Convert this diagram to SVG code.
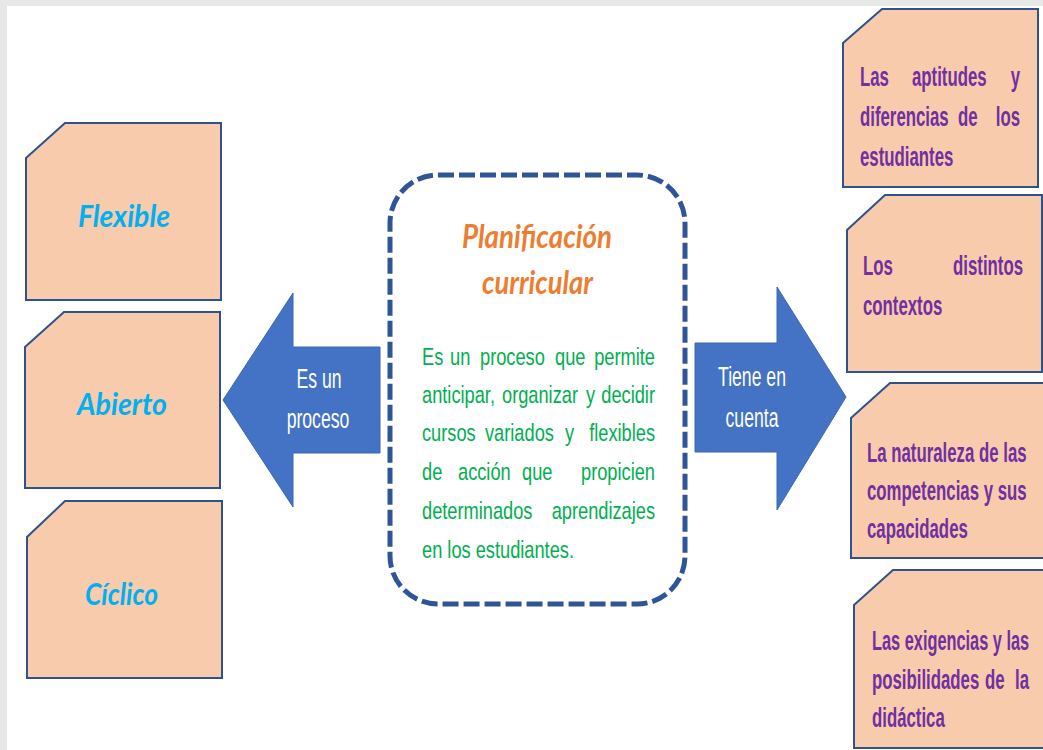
<svg xmlns="http://www.w3.org/2000/svg" width="1043" height="750" viewBox="0 0 1043 750">
<style>
.box{fill:#F8CBAD;stroke:#2F528F;stroke-width:2;stroke-linejoin:miter}
.arrow{fill:#4472C4;stroke:#3D66B3;stroke-width:1}
.cyan{font-family:Lato,"Liberation Sans",sans-serif;font-weight:bold;font-style:italic;font-size:31px;fill:#00B0F0}
.title{font-family:Lato,"Liberation Sans",sans-serif;font-weight:bold;font-style:italic;font-size:32px;fill:#ED7D31}
.green{font-family:"Liberation Sans",Arial,sans-serif;font-size:24px;fill:#00B050}
.purple{font-family:"Liberation Sans",Arial,sans-serif;font-weight:bold;font-size:28px;fill:#7030A0}
.white{font-family:"Liberation Sans",Arial,sans-serif;font-size:28px;fill:#FFFFFF;text-anchor:middle}
.end{text-anchor:end}
</style>
<rect x="0" y="0" width="1043" height="750" fill="#E7E7E7"/>
<rect x="7" y="6" width="1036" height="744" fill="#FFFFFF"/>

<g id="connectors">
  <polygon class="arrow" points="223,400 293,293 293,347 380,347 380,453 293,453 293,507"/>
  <text class="white" transform="translate(319 388) scale(0.63 1)">Es un</text>
  <text class="white" transform="translate(318 428) scale(0.63 1)">proceso</text>
  <polygon class="arrow" points="695,343 777,343 777,287 846,397 777,510 777,452 695,452"/>
  <text class="white" transform="translate(752 386) scale(0.63 1)">Tiene en</text>
  <text class="white" transform="translate(752 427) scale(0.63 1)">cuenta</text>
</g>

<g id="node-flexible">
  <polygon class="box" points="26,158 65,123 221,123 221,300 26,300"/>
  <text class="cyan" x="78" y="227" textLength="92" lengthAdjust="spacingAndGlyphs">Flexible</text>
</g>
<g id="node-abierto">
  <polygon class="box" points="25,347 64,312 220,312 220,488 25,488"/>
  <text class="cyan" x="77" y="415" textLength="90" lengthAdjust="spacingAndGlyphs">Abierto</text>
</g>
<g id="node-ciclico">
  <polygon class="box" points="27,537 65,501 222,501 222,678 27,678"/>
  <text class="cyan" x="85" y="605" textLength="73" lengthAdjust="spacingAndGlyphs">Cíclico</text>
</g>

<g id="node-center">
  <rect x="390" y="175" width="295" height="429" rx="48" ry="48" fill="#FFFFFF" stroke="#2F5597" stroke-width="5" stroke-dasharray="16 5"/>
  <text class="title" x="462" y="248" textLength="150" lengthAdjust="spacingAndGlyphs">Planificación</text>
  <text class="title" x="482" y="294" textLength="111" lengthAdjust="spacingAndGlyphs">curricular</text>
  <g class="green">
    <text transform="translate(422 365) scale(0.76 1)">Es</text>
    <text transform="translate(450 365) scale(0.76 1)">un</text>
    <text transform="translate(480 365) scale(0.76 1)">proceso</text>
    <text transform="translate(555 365) scale(0.76 1)">que</text>
    <text class="end" transform="translate(655 365) scale(0.76 1)">permite</text>
    <text transform="translate(422 403) scale(0.76 1)">anticipar,</text>
    <text transform="translate(502 403) scale(0.76 1)">organizar</text>
    <text transform="translate(586 403) scale(0.76 1)">y</text>
    <text class="end" transform="translate(655 403) scale(0.76 1)">decidir</text>
    <text transform="translate(422 441) scale(0.76 1)">cursos</text>
    <text transform="translate(485 441) scale(0.76 1)">variados</text>
    <text transform="translate(565 441) scale(0.76 1)">y</text>
    <text class="end" transform="translate(655 441) scale(0.76 1)">flexibles</text>
    <text transform="translate(422 480) scale(0.76 1)">de</text>
    <text transform="translate(458 480) scale(0.76 1)">acción</text>
    <text transform="translate(522 480) scale(0.76 1)">que</text>
    <text class="end" transform="translate(655 480) scale(0.76 1)">propicien</text>
    <text transform="translate(422 519) scale(0.76 1)">determinados</text>
    <text class="end" transform="translate(655 519) scale(0.76 1)">aprendizajes</text>
    <text transform="translate(422 558) scale(0.76 1)">en los estudiantes.</text>
  </g>
</g>

<g id="node-aptitudes">
  <polygon class="box" points="843,43 882,9 1038,9 1038,187 843,187"/>
  <g class="purple">
    <text transform="translate(860 86) scale(0.6 1)">Las</text>
    <text transform="translate(912 86) scale(0.6 1)">aptitudes</text>
    <text class="end" transform="translate(1020 86) scale(0.6 1)">y</text>
    <text transform="translate(860 126) scale(0.6 1)">diferencias</text>
    <text transform="translate(958 126) scale(0.6 1)">de</text>
    <text class="end" transform="translate(1020 126) scale(0.6 1)">los</text>
    <text transform="translate(860 166) scale(0.6 1)">estudiantes</text>
  </g>
</g>
<g id="node-contextos">
  <polygon class="box" points="847,230 885,195 1042,195 1042,372 847,372"/>
  <g class="purple">
    <text transform="translate(863 275) scale(0.6 1)">Los</text>
    <text class="end" transform="translate(1023 275) scale(0.6 1)">distintos</text>
    <text transform="translate(863 315) scale(0.6 1)">contextos</text>
  </g>
</g>
<g id="node-naturaleza">
  <polygon class="box" points="851,418 890,383 1050,383 1050,558 851,558"/>
  <g class="purple">
    <text transform="translate(867 462) scale(0.6 1)">La naturaleza de las</text>
    <text transform="translate(867 500) scale(0.6 1)">competencias y sus</text>
    <text transform="translate(867 538) scale(0.6 1)">capacidades</text>
  </g>
</g>
<g id="node-exigencias">
  <polygon class="box" points="854,605 893,570 1050,570 1050,748 854,748"/>
  <g class="purple">
    <text transform="translate(872 650) scale(0.6 1)" textLength="262" lengthAdjust="spacingAndGlyphs">Las exigencias y las</text>
    <text transform="translate(872 689) scale(0.6 1)">posibilidades</text>
    <text transform="translate(985 689) scale(0.6 1)">de</text>
    <text class="end" transform="translate(1029 689) scale(0.6 1)">la</text>
    <text transform="translate(872 727) scale(0.6 1)">didáctica</text>
  </g>
</g>
</svg>
